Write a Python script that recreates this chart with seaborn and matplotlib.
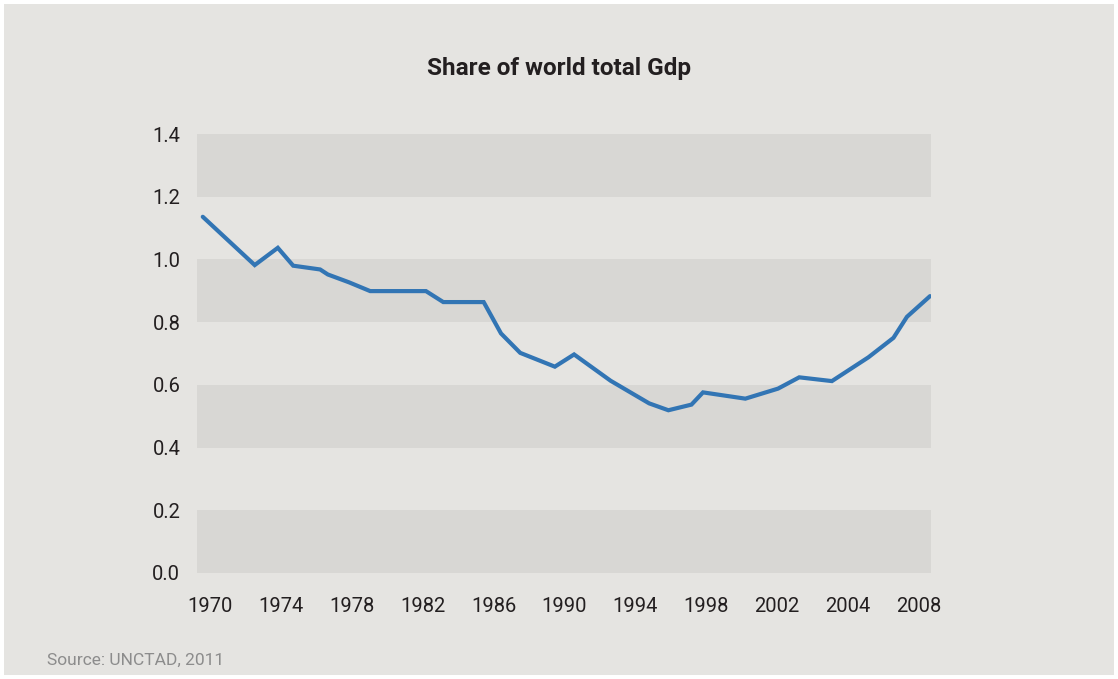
import matplotlib
matplotlib.use("Agg")
import matplotlib.pyplot as plt
from matplotlib.patches import Rectangle
import numpy as np
import pandas as pd
import seaborn as sns

# Share of world total GDP, by (decimal) year
years = [1970.2, 1972.9, 1974.1, 1974.9, 1976.3, 1976.7, 1977.8, 1978.9,
         1981.8, 1982.7, 1984.8, 1985.7, 1986.7, 1988.5, 1989.5, 1991.4,
         1993.4, 1994.4, 1995.6, 1996.2, 1998.4, 2000.1, 2001.2, 2002.9,
         2004.0, 2004.8, 2006.1, 2006.8, 2008.0]
share = [1.136, 0.982, 1.037, 0.980, 0.968, 0.952, 0.927, 0.899,
         0.899, 0.864, 0.864, 0.764, 0.702, 0.658, 0.697, 0.613,
         0.541, 0.519, 0.537, 0.576, 0.556, 0.588, 0.624, 0.612,
         0.656, 0.688, 0.750, 0.817, 0.883]

tick_labels = ["1970", "1974", "1978", "1982", "1986", "1990",
               "1994", "1998", "2002", "2004", "2008"]
y_ticks = [0.0, 0.2, 0.4, 0.6, 0.8, 1.0, 1.2, 1.4]
band_ranges = [(0.0, 0.2), (0.4, 0.6), (0.8, 1.0), (1.2, 1.4)]

df = pd.DataFrame({"year": years, "share": share})

sns.set_theme(style="white")
plt.rcParams["font.family"] = ["Roboto", "DejaVu Sans"]

paper = "#e5e4e1"
band = "#d8d7d4"
ink = "#231f20"
line_col = "#3275b4"

fig = plt.figure(figsize=(11.18, 6.79), dpi=100)
fig.patch.set_facecolor("white")
fig.patches.append(Rectangle((4 / 1118, 4 / 679), 1110 / 1118, 671 / 679,
                             transform=fig.transFigure, facecolor=paper,
                             edgecolor="none", zorder=-10))

ax = fig.add_axes([197 / 1118, 1 - 573 / 679, 734 / 1118, 439 / 679])
ax.set_facecolor("none")

x0, x1 = 1969.9, 2008.05
for lo, hi in band_ranges:
    ax.axhspan(lo, hi, facecolor=band, edgecolor="none", zorder=0)

sns.lineplot(data=df, x="year", y="share", ax=ax, color=line_col,
             linewidth=3.0, solid_joinstyle="miter", zorder=3)

ax.set_xlim(x0, x1)
ax.set_ylim(0, 1.4)
ax.set_yticks(y_ticks)
ax.set_yticklabels([f"{v:.1f}" for v in y_ticks])
ax.set_xticks(np.linspace(1970.6, 2007.4, len(tick_labels)))
ax.set_xticklabels(tick_labels)
ax.tick_params(axis="both", length=0, labelsize=14.5, labelcolor=ink)
ax.tick_params(axis="y", pad=12)
ax.tick_params(axis="x", pad=17)
ax.set_xlabel("")
ax.set_ylabel("")
for s in ax.spines.values():
    s.set_visible(False)

fig.text(0.5, 1 - 68 / 679, "Share of world total Gdp", ha="center",
         va="center", fontsize=17.5, fontweight="bold", color=ink)
fig.text(47 / 1118, 1 - 660 / 679, "Source: UNCTAD, 2011", ha="left",
         va="center", fontsize=12.5, color="#8c8c8c")

fig.savefig("out.png", dpi=100, facecolor=fig.get_facecolor())
